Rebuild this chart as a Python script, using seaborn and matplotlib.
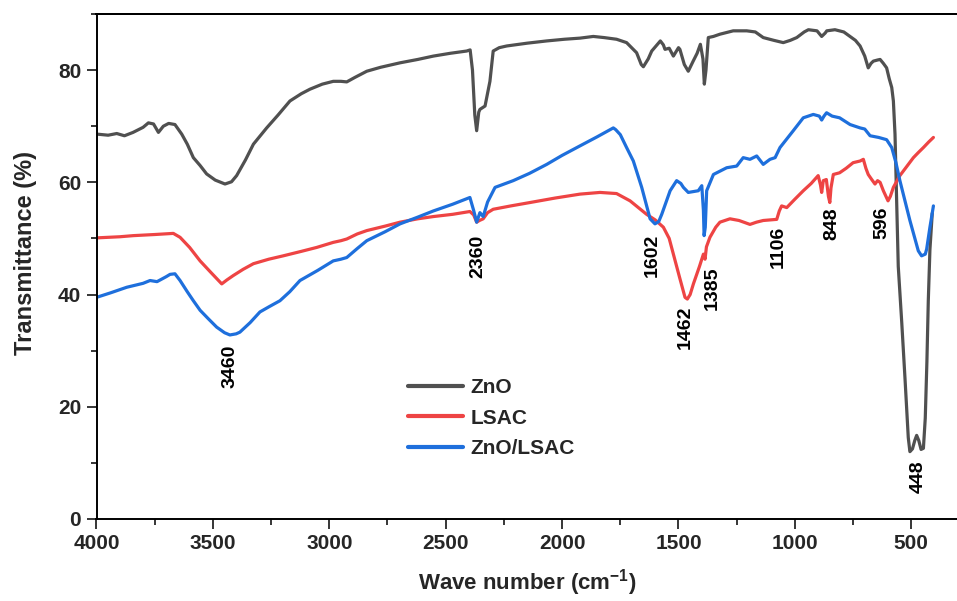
import numpy as np
import pandas as pd
import matplotlib
matplotlib.use("Agg")
import matplotlib.pyplot as plt
import seaborn as sns
from matplotlib.ticker import MultipleLocator
from matplotlib.patches import Rectangle

# ---------------- data ----------------
zno_wn = [4000, 3950, 3913, 3880, 3843, 3800, 3777, 3755, 3734, 3713, 3690, 3663, 3634,
          3610, 3584, 3555, 3527, 3490, 3448, 3420, 3398, 3360, 3326, 3269, 3220, 3169,
          3120, 3083, 3030, 2983, 2950, 2925, 2890, 2839, 2780, 2696, 2620, 2553, 2480,
          2410, 2395, 2385, 2375, 2367, 2358, 2353, 2331, 2310, 2296, 2270, 2238, 2150,
          2066, 1990, 1923, 1866, 1820, 1766, 1723, 1680, 1660, 1651, 1630, 1615, 1578,
          1565, 1558, 1540, 1522, 1500, 1494, 1475, 1458, 1437, 1420, 1406, 1395, 1389,
          1382, 1372, 1350, 1322, 1265, 1207, 1170, 1136, 1090, 1050, 1020, 992, 960,
          942, 905, 885, 870, 863, 828, 790, 763, 740, 720, 700, 685, 673, 663, 645,
          634, 620, 606, 595, 584, 577, 570, 563, 556, 541, 527, 513, 506, 495, 485,
          477, 468, 458, 448, 440, 433, 427, 420, 410]
zno_t = [68.6, 68.4, 68.7, 68.3, 68.9, 69.8, 70.6, 70.4, 68.9, 70.0, 70.5, 70.3, 68.6,
         66.8, 64.4, 63.0, 61.5, 60.4, 59.7, 60.1, 61.2, 64.0, 66.8, 69.7, 72.0, 74.5,
         75.8, 76.6, 77.5, 78.0, 78.0, 77.9, 78.7, 79.8, 80.5, 81.3, 81.9, 82.5, 83.0,
         83.4, 83.6, 80.0, 72.0, 69.2, 72.5, 73.0, 73.6, 78.0, 83.4, 84.0, 84.3, 84.8,
         85.2, 85.5, 85.7, 86.0, 85.8, 85.5, 84.9, 83.1, 81.0, 80.6, 82.0, 83.4, 85.2,
         84.5, 83.7, 83.9, 82.5, 84.0, 83.7, 81.0, 79.8, 81.6, 83.0, 84.6, 82.0, 77.5,
         80.0, 85.8, 86.0, 86.4, 87.0, 87.0, 86.8, 85.8, 85.3, 84.9, 85.3, 85.8, 86.8,
         87.2, 87.0, 86.0, 86.6, 87.0, 87.2, 86.8, 86.0, 85.3, 84.3, 82.5, 80.4, 81.2,
         81.6, 81.8, 81.9, 81.2, 80.4, 78.5, 76.9, 74.5, 68.6, 56.7, 45.0, 35.0, 25.0,
         14.5, 12.0, 12.5, 14.0, 14.9, 14.0, 12.4, 12.6, 18.0, 28.0, 38.9, 48.0, 54.5]

lsac_wn = [4000, 3900, 3842, 3750, 3670, 3641, 3600, 3555, 3510, 3462, 3440, 3412, 3370,
           3326, 3260, 3198, 3120, 3054, 2983, 2950, 2925, 2880, 2839, 2760, 2696, 2620,
           2553, 2470, 2396, 2380, 2367, 2355, 2339, 2320, 2296, 2220, 2138, 2030, 1923,
           1837, 1766, 1708, 1637, 1600, 1565, 1540, 1522, 1495, 1472, 1462, 1450, 1436,
           1410, 1393, 1386, 1380, 1365, 1340, 1322, 1279, 1240, 1193, 1165, 1136, 1078,
           1067, 1057, 1035, 1000, 964, 930, 900, 890, 885, 878, 865, 856, 850, 845, 835,
           808, 780, 750, 720, 706, 695, 685, 670, 656, 645, 634, 620, 600, 590, 577, 549,
           520, 491, 470, 448, 425, 405]
lsac_t = [50.1, 50.3, 50.5, 50.7, 50.9, 50.2, 48.4, 46.0, 44.0, 41.9, 42.6, 43.4, 44.5,
          45.5, 46.3, 46.9, 47.7, 48.4, 49.3, 49.6, 49.9, 50.8, 51.4, 52.2, 52.9, 53.5,
          53.9, 54.3, 54.8, 54.2, 52.9, 53.2, 53.5, 54.6, 55.2, 55.8, 56.4, 57.2, 57.9,
          58.2, 58.0, 56.7, 54.3, 53.3, 52.0, 50.0, 47.2, 43.0, 39.5, 39.2, 40.0, 41.9,
          45.0, 47.2, 46.3, 48.5, 50.2, 52.0, 52.9, 53.5, 53.2, 52.5, 52.9, 53.2, 53.4,
          54.9, 55.8, 55.5, 57.0, 58.5, 59.8, 61.2, 59.5, 58.2, 60.3, 60.5, 57.5, 56.4,
          59.0, 61.4, 61.7, 62.5, 63.5, 63.8, 64.1, 62.5, 61.4, 60.5, 59.7, 60.3, 60.0,
          58.5, 56.7, 57.5, 59.1, 61.2, 62.8, 64.4, 65.3, 66.2, 67.2, 68.0]

comp_wn = [4000, 3940, 3870, 3800, 3770, 3740, 3700, 3684, 3663, 3641, 3610, 3584, 3555,
           3520, 3484, 3450, 3427, 3400, 3384, 3340, 3298, 3260, 3212, 3170, 3126, 3050,
           2983, 2950, 2925, 2880, 2839, 2760, 2696, 2620, 2553, 2470, 2396, 2380, 2367,
           2353, 2339, 2320, 2288, 2210, 2140, 2066, 2000, 1923, 1850, 1780, 1770, 1750,
           1723, 1694, 1658, 1622, 1601, 1585, 1572, 1536, 1508, 1490, 1479, 1458, 1415,
           1400, 1393, 1390, 1385, 1379, 1350, 1293, 1250, 1222, 1193, 1164, 1136, 1107,
           1085, 1064, 1007, 964, 921, 895, 885, 875, 864, 840, 808, 763, 720, 700, 677,
           640, 606, 584, 566, 549, 506, 470, 456, 440, 434, 420, 405]
comp_t = [39.5, 40.3, 41.3, 42.0, 42.5, 42.3, 43.2, 43.6, 43.7, 42.5, 40.5, 38.9, 37.2,
          35.7, 34.2, 33.2, 32.8, 33.0, 33.3, 35.0, 36.9, 37.8, 38.9, 40.5, 42.5, 44.3,
          46.0, 46.3, 46.6, 48.2, 49.6, 51.2, 52.6, 53.8, 54.9, 56.1, 57.3, 55.0, 52.9,
          54.6, 53.9, 56.5, 59.1, 60.3, 61.6, 63.2, 64.8, 66.5, 68.1, 69.7, 69.4, 68.5,
          66.2, 63.8, 59.1, 53.5, 52.6, 53.0, 54.3, 58.5, 60.3, 59.8, 59.1, 58.2, 58.5,
          59.4, 55.0, 50.5, 52.0, 58.5, 61.4, 62.6, 62.9, 64.4, 64.1, 64.7, 63.2, 64.1,
          64.4, 66.2, 69.2, 71.5, 72.1, 71.8, 71.1, 71.8, 72.4, 71.8, 71.5, 70.3, 69.7,
          69.5, 68.3, 68.0, 67.6, 66.2, 63.5, 60.3, 53.2, 47.8, 46.9, 47.2, 48.1, 52.0, 55.8]

series_names = ["ZnO", "LSAC", "ZnO/LSAC"]
series_colors = ["#505050", "#ee4444", "#1e6fdc"]

peak_labels = ["3460", "2360", "1602", "1462", "1385", "1106", "848", "596", "448"]
peak_x = [3427, 2361, 1614, 1472, 1356, 1073, 841, 626, 471]
peak_y = [27.2, 46.8, 46.9, 34.1, 41.1, 48.5, 52.6, 52.8, 7.6]

# ---------------- figure ----------------
sns.set_theme(style="ticks")
plt.rcParams["font.family"] = ["Liberation Sans", "DejaVu Sans"]
plt.rcParams["font.weight"] = "bold"
plt.rcParams["mathtext.fontset"] = "custom"
plt.rcParams["mathtext.bf"] = "Liberation Sans:bold"
plt.rcParams["mathtext.rm"] = "Liberation Sans:bold"
plt.rcParams["mathtext.default"] = "bf"

W, H = 957, 601
fig = plt.figure(figsize=(W / 100, H / 100), dpi=100)
ax = fig.add_axes([96.5 / W, 1 - 519 / H, 1 - 96.5 / W, (519 - 14) / H])

frames = []
for name, wn, t in zip(series_names, [zno_wn, lsac_wn, comp_wn], [zno_t, lsac_t, comp_t]):
    frames.append(pd.DataFrame({"wn": wn, "T": t, "sample": name}))
df = pd.concat(frames, ignore_index=True)

sns.lineplot(data=df, x="wn", y="T", hue="sample", hue_order=series_names,
             palette=series_colors, sort=False, estimator=None, linewidth=2.3, ax=ax)

ax.set_xlim(4000, 4000 - (W - 96.5) / (116.4 / 500))
ax.set_ylim(0, 90)
ax.xaxis.set_major_locator(MultipleLocator(500))
ax.xaxis.set_minor_locator(MultipleLocator(250))
ax.yaxis.set_major_locator(MultipleLocator(20))
ax.yaxis.set_minor_locator(MultipleLocator(10))
ax.tick_params(axis="both", which="major", direction="out", length=7, width=1.3,
               labelsize=15, pad=4)
ax.tick_params(axis="both", which="minor", direction="out", length=4, width=1.3)
for lab in ax.get_xticklabels() + ax.get_yticklabels():
    lab.set_fontweight("bold")

for side in ["left", "bottom", "top"]:
    ax.spines[side].set_visible(True)
    ax.spines[side].set_linewidth(1.4)
    ax.spines[side].set_color("black")
ax.spines["right"].set_visible(False)

# top frame as a thin filled band at figure level
fig.patches.append(Rectangle((95.5 / W, 1 - 15 / H), 1.0 - 95.5 / W, 2.5 / H,
                             transform=fig.transFigure, facecolor="black",
                             edgecolor="none", zorder=10))

ax.set_xlabel("Wave number (cm$^{-1}$)", fontsize=16, fontweight="bold", labelpad=10)
ax.set_ylabel("Transmittance (%)", fontsize=17, fontweight="bold", labelpad=14)
ax.yaxis.set_label_coords(-0.069, 0.526)

for lab, x, y in zip(peak_labels, peak_x, peak_y):
    ax.text(x, y, lab, rotation=90, ha="center", va="center", fontsize=14,
            fontweight="bold", color="black")

leg = ax.legend(loc="upper left", bbox_to_anchor=((400 - 96.5) / (W - 96.5), (519 - 370) / 505),
                frameon=False, fontsize=15, handlelength=2.6, handletextpad=0.4,
                labelspacing=0.55, borderaxespad=0)
for t in leg.get_texts():
    t.set_fontweight("bold")
for l in leg.get_lines():
    l.set_linewidth(3)

fig.savefig("out.png", dpi=100)
